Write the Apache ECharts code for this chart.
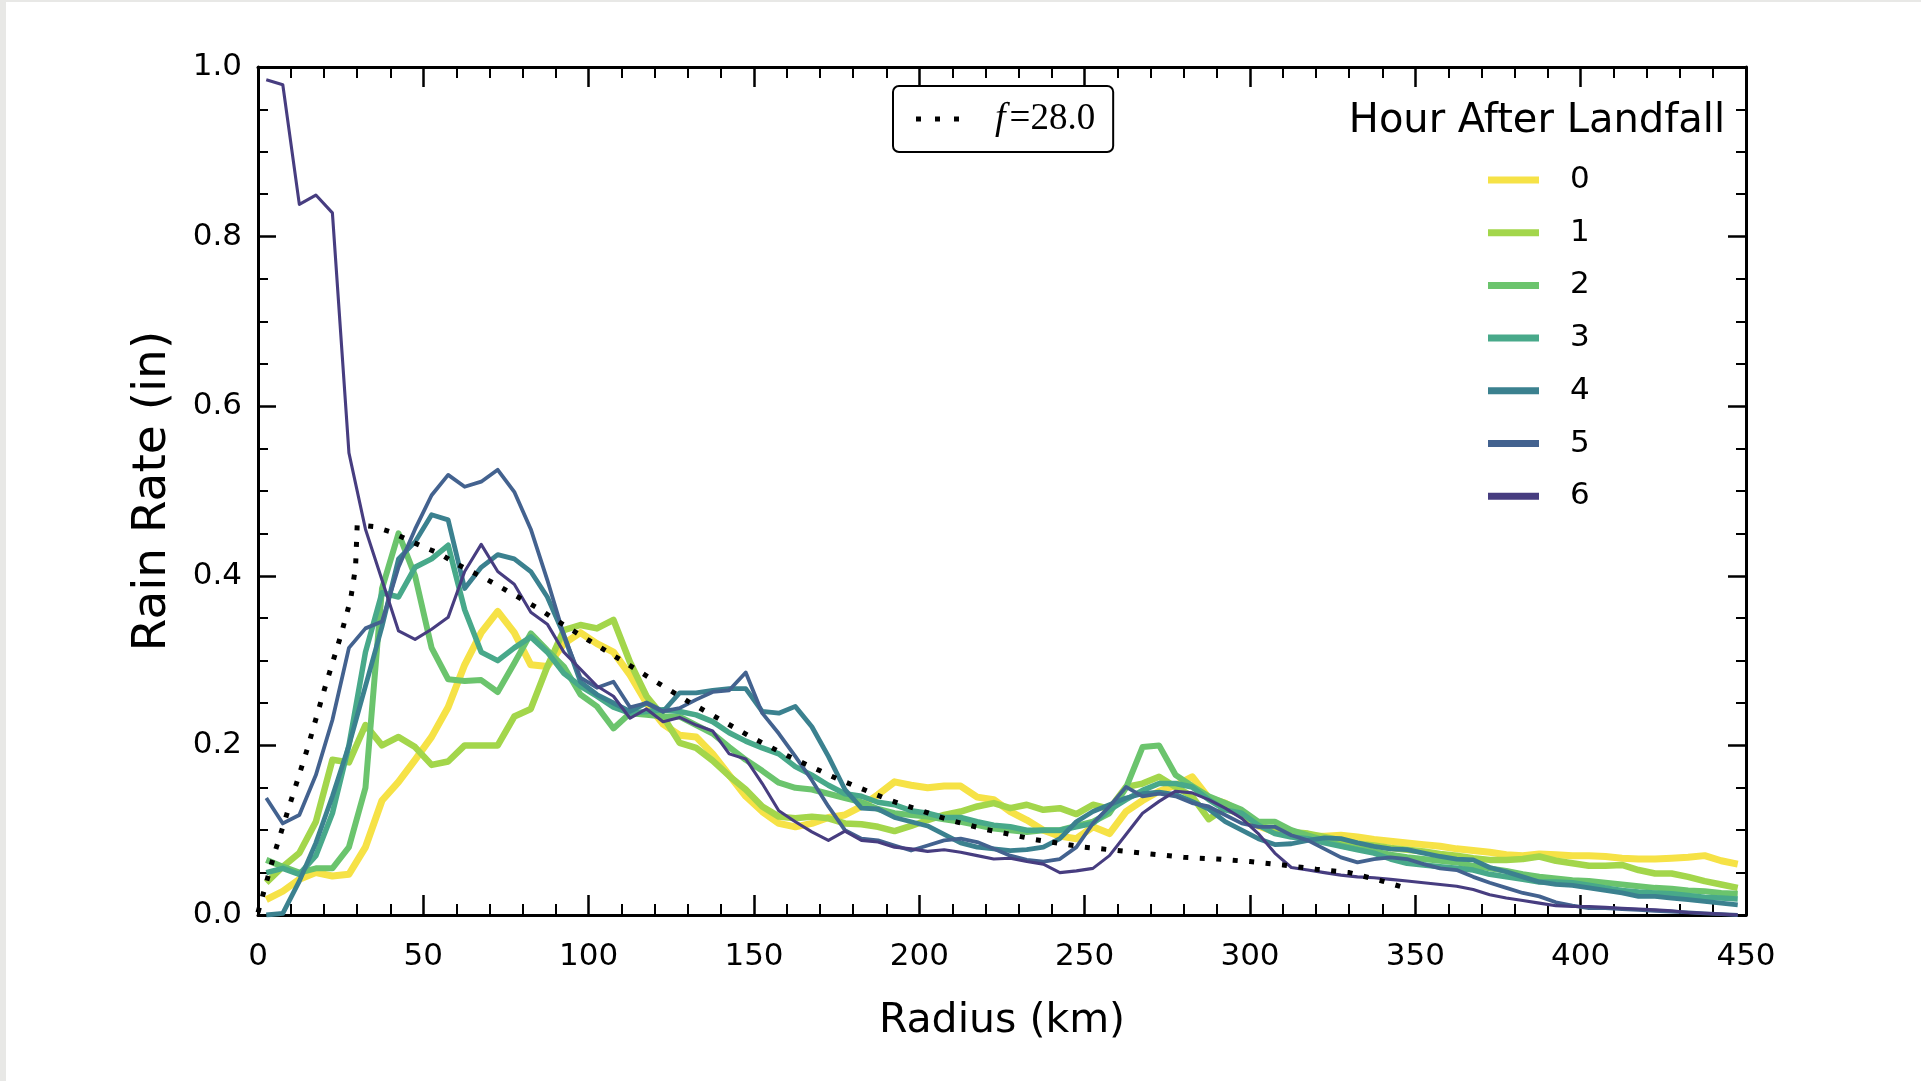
<!DOCTYPE html>
<html>
<head>
<meta charset="utf-8">
<script src="https://cdn.jsdelivr.net/npm/echarts@6/dist/echarts.min.js"></script>
<style>
  html, body { margin: 0; padding: 0; background: #ffffff; }
  #c { width: 1921px; height: 1081px; position: relative; }
  .edgeL { position: absolute; left: 0; top: 0; width: 6px; height: 1081px; background: #e8e8e6; z-index: 5; }
  .edgeT { position: absolute; left: 0; top: 0; width: 1921px; height: 2px; background: #e8e8e6; z-index: 5; }
</style>
</head>
<body>
<div id="c"></div>
<div class="edgeL"></div>
<div class="edgeT"></div>
<script>
// Radius grid (km), bin centres
const radius = [
  2.5, 7.5, 12.5, 17.5, 22.5, 27.5, 32.5, 37.5, 42.5, 47.5,
  52.5, 57.5, 62.5, 67.5, 72.5, 77.5, 82.5, 87.5, 92.5, 97.5,
  102.5, 107.5, 112.5, 117.5, 122.5, 127.5, 132.5, 137.5, 142.5, 147.5,
  152.5, 157.5, 162.5, 167.5, 172.5, 177.5, 182.5, 187.5, 192.5, 197.5,
  202.5, 207.5, 212.5, 217.5, 222.5, 227.5, 232.5, 237.5, 242.5, 247.5,
  252.5, 257.5, 262.5, 267.5, 272.5, 277.5, 282.5, 287.5, 292.5, 297.5,
  302.5, 307.5, 312.5, 317.5, 322.5, 327.5, 332.5, 337.5, 342.5, 347.5,
  352.5, 357.5, 362.5, 367.5, 372.5, 377.5, 382.5, 387.5, 392.5, 397.5,
  402.5, 407.5, 412.5, 417.5, 422.5, 427.5, 432.5, 437.5, 442.5, 447.5
];

const hour0 = [
  0.018, 0.028, 0.042, 0.050, 0.046, 0.048, 0.080, 0.135, 0.157, 0.183,
  0.210, 0.245, 0.295, 0.333, 0.358, 0.333, 0.295, 0.293, 0.320, 0.333,
  0.320, 0.310, 0.283, 0.250, 0.225, 0.212, 0.210, 0.190, 0.165, 0.140,
  0.122, 0.108, 0.104, 0.108, 0.115, 0.118, 0.128, 0.142, 0.157, 0.153,
  0.150, 0.152, 0.152, 0.139, 0.136, 0.122, 0.112, 0.100, 0.093, 0.090,
  0.104, 0.096, 0.122, 0.135, 0.146, 0.153, 0.163, 0.138, 0.132, 0.121,
  0.105, 0.098, 0.094, 0.093, 0.093, 0.094, 0.092, 0.089, 0.087, 0.085,
  0.083, 0.081, 0.078, 0.076, 0.074, 0.071, 0.070, 0.072, 0.071, 0.070,
  0.070, 0.069, 0.067, 0.066, 0.066, 0.067, 0.068, 0.070, 0.064, 0.060
];
const hour1 = [
  0.038, 0.057, 0.073, 0.110, 0.183, 0.180, 0.224, 0.200, 0.210, 0.198,
  0.177, 0.181, 0.200, 0.200, 0.200, 0.234, 0.243, 0.293, 0.336, 0.342,
  0.338, 0.348, 0.298, 0.258, 0.234, 0.203, 0.197, 0.182, 0.164, 0.148,
  0.128, 0.116, 0.114, 0.116, 0.114, 0.108, 0.107, 0.104, 0.099, 0.105,
  0.112, 0.118, 0.122, 0.128, 0.132, 0.126, 0.130, 0.124, 0.126, 0.119,
  0.130, 0.125, 0.151, 0.155, 0.163, 0.151, 0.140, 0.113, 0.126, 0.118,
  0.106, 0.100, 0.098, 0.096, 0.092, 0.088, 0.084, 0.082, 0.079, 0.077,
  0.075, 0.072, 0.070, 0.067, 0.065, 0.065, 0.066, 0.069, 0.064, 0.061,
  0.058, 0.058, 0.059, 0.053, 0.049, 0.049, 0.045, 0.040, 0.036, 0.032
];
const hour2 = [
  0.065, 0.057, 0.050, 0.055, 0.055, 0.080, 0.150, 0.385, 0.450, 0.400,
  0.315, 0.278, 0.276, 0.277, 0.263, 0.297, 0.332, 0.312, 0.293, 0.260,
  0.246, 0.220, 0.238, 0.236, 0.234, 0.234, 0.224, 0.214, 0.198, 0.183,
  0.170, 0.156, 0.150, 0.148, 0.143, 0.138, 0.133, 0.125, 0.120, 0.118,
  0.116, 0.113, 0.110, 0.106, 0.102, 0.100, 0.098, 0.100, 0.100, 0.105,
  0.110, 0.120, 0.150, 0.198, 0.200, 0.165, 0.152, 0.140, 0.132, 0.124,
  0.110, 0.110, 0.100, 0.094, 0.088, 0.082, 0.078, 0.075, 0.071, 0.068,
  0.066, 0.064, 0.062, 0.058, 0.055, 0.052, 0.048, 0.045, 0.043, 0.041,
  0.040, 0.038, 0.036, 0.034, 0.032, 0.031, 0.029, 0.028, 0.026, 0.025
];
const hour3 = [
  0.050, 0.055, 0.048, 0.070, 0.120, 0.200, 0.310, 0.380, 0.375, 0.410,
  0.420, 0.436, 0.360, 0.310, 0.300, 0.315, 0.328, 0.310, 0.285, 0.270,
  0.258, 0.245, 0.238, 0.240, 0.242, 0.240, 0.236, 0.228, 0.215, 0.205,
  0.197, 0.190, 0.175, 0.165, 0.153, 0.143, 0.140, 0.133, 0.130, 0.123,
  0.120, 0.115, 0.115, 0.110, 0.106, 0.104, 0.100, 0.100, 0.100, 0.104,
  0.108, 0.124, 0.136, 0.147, 0.155, 0.155, 0.151, 0.136, 0.124, 0.120,
  0.106, 0.096, 0.092, 0.090, 0.085, 0.081, 0.077, 0.073, 0.066, 0.061,
  0.059, 0.057, 0.055, 0.053, 0.048, 0.045, 0.042, 0.039, 0.039, 0.038,
  0.035, 0.032, 0.029, 0.027, 0.026, 0.025, 0.023, 0.021, 0.020, 0.019
];
const hour4 = [
  0.000, 0.002, 0.040, 0.085, 0.140, 0.200, 0.270, 0.340, 0.420, 0.440,
  0.472, 0.466, 0.385, 0.410, 0.425, 0.420, 0.405, 0.375, 0.330, 0.275,
  0.260, 0.250, 0.240, 0.250, 0.240, 0.262, 0.262, 0.265, 0.267, 0.267,
  0.240, 0.238, 0.246, 0.222, 0.187, 0.148, 0.126, 0.125, 0.115, 0.110,
  0.105, 0.095, 0.085, 0.080, 0.078, 0.076, 0.077, 0.080, 0.090, 0.110,
  0.122, 0.130, 0.138, 0.143, 0.145, 0.142, 0.134, 0.125, 0.110, 0.100,
  0.090, 0.083, 0.084, 0.088, 0.091, 0.090, 0.085, 0.081, 0.078, 0.077,
  0.073, 0.069, 0.066, 0.065, 0.056, 0.051, 0.045, 0.039, 0.036, 0.035,
  0.032, 0.029, 0.026, 0.022, 0.022, 0.020, 0.018, 0.016, 0.014, 0.012
];
const hour5 = [
  0.138, 0.108, 0.118, 0.165, 0.230, 0.315, 0.338, 0.346, 0.410, 0.455,
  0.495, 0.519, 0.505, 0.511, 0.525, 0.499, 0.455, 0.395, 0.330, 0.280,
  0.268, 0.275, 0.245, 0.250, 0.240, 0.244, 0.254, 0.263, 0.265, 0.286,
  0.238, 0.214, 0.187, 0.159, 0.128, 0.100, 0.090, 0.088, 0.082, 0.076,
  0.082, 0.088, 0.090, 0.086, 0.078, 0.070, 0.065, 0.063, 0.066, 0.080,
  0.108, 0.128, 0.151, 0.140, 0.143, 0.140, 0.132, 0.128, 0.118, 0.108,
  0.104, 0.104, 0.094, 0.088, 0.078, 0.068, 0.062, 0.066, 0.068, 0.066,
  0.060, 0.055, 0.053, 0.045, 0.038, 0.032, 0.026, 0.022, 0.015, 0.011,
  0.008, 0.008, 0.007, 0.006, 0.005, 0.004, 0.003, 0.002, 0.001, 0.000
];
const hour6 = [
  0.985, 0.979, 0.838, 0.849, 0.828, 0.545, 0.455, 0.395, 0.335, 0.325,
  0.337, 0.351, 0.405, 0.437, 0.405, 0.390, 0.357, 0.343, 0.310, 0.290,
  0.270, 0.258, 0.232, 0.243, 0.228, 0.233, 0.224, 0.217, 0.190, 0.184,
  0.155, 0.123, 0.110, 0.098, 0.088, 0.099, 0.088, 0.086, 0.080, 0.078,
  0.075, 0.077, 0.074, 0.070, 0.066, 0.067, 0.063, 0.060, 0.050, 0.052,
  0.055, 0.070, 0.095, 0.120, 0.134, 0.146, 0.144, 0.136, 0.126, 0.114,
  0.096, 0.073, 0.056, 0.053, 0.050, 0.047, 0.045, 0.044, 0.042, 0.040,
  0.038, 0.036, 0.034, 0.030, 0.024, 0.020, 0.017, 0.014, 0.011, 0.010,
  0.010, 0.009, 0.008, 0.007, 0.006, 0.005, 0.003, 0.002, 0.001, 0.000
];

// Model curve (dotted), f = 28.0
const modelRadius = [
  0, 5, 10, 15, 20, 25, 28, 29.5, 30, 35, 40, 45, 50, 55, 60, 65, 70, 75, 80, 85,
  90, 95, 100, 105, 110, 115, 120, 125, 130, 135, 140, 145, 150, 155, 160, 165, 170, 175, 180, 185,
  190, 195, 200, 205, 210, 215, 220, 225, 230, 235, 240, 245, 250, 260, 270, 280, 290, 300, 310, 320,
  330, 340, 346
];
const modelRate = [
  0.003, 0.073, 0.135, 0.197, 0.265, 0.329, 0.372, 0.410, 0.460, 0.458, 0.452, 0.443, 0.434, 0.426, 0.414, 0.404, 0.394, 0.383, 0.372, 0.361,
  0.348, 0.336, 0.324, 0.312, 0.300, 0.288, 0.276, 0.264, 0.252, 0.241, 0.230, 0.219, 0.208, 0.198, 0.188, 0.179, 0.170, 0.161, 0.153, 0.145,
  0.137, 0.130, 0.124, 0.117, 0.111, 0.106, 0.101, 0.097, 0.093, 0.089, 0.086, 0.083, 0.080, 0.076, 0.072, 0.068, 0.066, 0.063, 0.059, 0.054,
  0.050, 0.040, 0.033
];

const hourNames = ['0', '1', '2', '3', '4', '5', '6'];
const modelName = 'f=28.0';
const xTicks = [0, 50, 100, 150, 200, 250, 300, 350, 400, 450];
const yTicks = [0.0, 0.2, 0.4, 0.6, 0.8, 1.0];

const colors = ['#f6e246', '#a3d64b', '#6bc46d', '#48a98a', '#3b818f', '#43628f', '#473d80'];
const widths = [7, 6.5, 6, 5.5, 4.8, 3.8, 3.1];

const FONT = 'DejaVu Sans';
const hours = [hour0, hour1, hour2, hour3, hour4, hour5, hour6];

const series = hours.map((vals, i) => ({
  name: hourNames[i],
  type: 'line',
  data: radius.map((r, j) => [r, vals[j]]),
  symbol: 'none',
  showSymbol: false,
  clip: true,
  z: 2 + i,
  lineStyle: { color: colors[i], width: widths[i], join: 'round' },
  itemStyle: { color: colors[i] },
  emphasis: { disabled: true }
}));
series.push({
  name: modelName,
  type: 'line',
  data: modelRadius.map((r, j) => [r, modelRate[j]]),
  symbol: 'none',
  showSymbol: false,
  clip: true,
  z: 20,
  lineStyle: { color: '#000', width: 5, type: [5, 11.5], cap: 'butt' },
  itemStyle: { color: '#000' },
  emphasis: { disabled: true }
});

const tickStyle = { color: '#000', width: 2.5 };
function xAxisDef(pos, withLabels) {
  return {
    type: 'value', position: pos, min: xTicks[0], max: xTicks[xTicks.length - 1], interval: 50,
    axisLine: { show: true, onZero: false, lineStyle: { color: '#000', width: 3 } },
    axisTick: { show: true, inside: true, length: 20, lineStyle: tickStyle },
    minorTick: { show: true, splitNumber: 5, length: 11, lineStyle: { color: '#000', width: 2 } },
    splitLine: { show: false },
    axisLabel: { show: withLabels, fontSize: 31, color: '#000', fontFamily: FONT, margin: 26 },
    name: withLabels ? 'Radius (km)' : '',
    nameLocation: 'middle', nameGap: 86,
    nameTextStyle: { fontSize: 41, color: '#000', fontFamily: FONT }
  };
}
function yAxisDef(pos, withLabels) {
  return {
    type: 'value', position: pos, min: yTicks[0], max: yTicks[yTicks.length - 1], interval: 0.2,
    axisLine: { show: true, onZero: false, lineStyle: { color: '#000', width: 3 } },
    axisTick: { show: true, inside: true, length: 18, lineStyle: tickStyle },
    minorTick: { show: true, splitNumber: 4, length: 10, lineStyle: { color: '#000', width: 2 } },
    splitLine: { show: false },
    axisLabel: { show: withLabels, fontSize: 31, color: '#000', fontFamily: FONT, margin: 16,
                 formatter: v => v.toFixed(1) },
    name: withLabels ? 'Rain Rate (in)' : '',
    nameLocation: 'middle', nameGap: 82,
    nameTextStyle: { fontSize: 47, color: '#000', fontFamily: FONT }
  };
}

const chart = echarts.init(document.getElementById('c'), null, { renderer: 'canvas', width: 1921, height: 1081 });
chart.setOption({
  animation: false,
  backgroundColor: '#ffffff',
  textStyle: { fontFamily: FONT },
  grid: { left: 258, right: 175, top: 67, bottom: 166, containLabel: false },
  title: {
    text: 'Hour After Landfall', right: 196, top: 102, padding: 0,
    textStyle: { fontSize: 40, fontWeight: 'normal', color: '#000', fontFamily: FONT }
  },
  legend: [
    {
      data: hourNames, orient: 'vertical', left: 1488, top: 162, padding: 0,
      itemWidth: 51, itemHeight: 7, itemGap: 16.7, icon: 'rect', selectedMode: false,
      textStyle: { fontSize: 31, lineHeight: 36, color: '#000', fontFamily: FONT, padding: [0, 0, 0, 26] }
    },
    {
      data: [modelName], orient: 'horizontal', left: 893, top: 86,
      padding: [14, 18, 14, 23], borderColor: '#000', borderWidth: 2, borderRadius: 6,
      backgroundColor: '#fff',
      itemWidth: 43, itemHeight: 5, selectedMode: false,
      icon: 'path://M0,0h5v5h-5z M19,0h5v5h-5z M38,0h5v5h-5z',
      formatter: name => '{i|' + name.charAt(0) + '}{n|' + name.slice(1) + '}',
      textStyle: {
        color: '#000', padding: [0, 0, 0, 31],
        rich: {
          i: { fontFamily: 'Liberation Serif', fontStyle: 'italic', fontSize: 38, color: '#000', padding: [0, 4, 0, 0] },
          n: { fontFamily: 'Liberation Serif', fontSize: 37, color: '#000' }
        }
      }
    }
  ],
  xAxis: [xAxisDef('bottom', true), xAxisDef('top', false)],
  yAxis: [yAxisDef('left', true), yAxisDef('right', false)],
  series: series
});
</script>
</body>
</html>
